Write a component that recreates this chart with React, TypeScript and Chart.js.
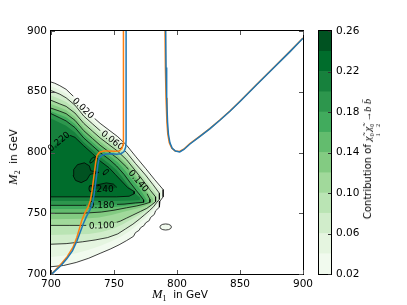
import React, { useEffect, useRef } from "react";
import { Chart, registerables } from "chart.js";

Chart.register(...registerables);

type Pt = [number, number];

// ---------- axes ----------
const xTickValues = [700, 750, 800, 850, 900];
const yTickValues = [700, 750, 800, 850, 900];
const colorbarTicks = [0.02, 0.06, 0.1, 0.14, 0.18, 0.22, 0.26];
const levelEdges = [0.02, 0.04, 0.06, 0.08, 0.1, 0.12, 0.14, 0.16, 0.18, 0.2, 0.22, 0.24, 0.26];
const bandColors = [
  "#f1faee", "#e5f5e0", "#d1edcb", "#bae4b4", "#a1d99b", "#83cb82",
  "#63bc6e", "#41ab5d", "#2d964d", "#17813d", "#006d2c", "#005221",
];

// ---------- contour regions (M1, M2) in GeV ----------
const c002: Pt[] = [
  [700, 858], [703, 857], [707, 855], [712, 852], [719, 845], [726, 836], [733, 829.5], [739, 824], [746, 818.5], [753, 813], [760, 806], [767, 797], [775, 787], [782, 778], [789, 769.5],
  [789, 763.5], [786.5, 760], [786, 755], [783, 752], [782, 749], [779, 746.5], [778, 744], [775, 742], [774, 740], [771, 738], [770, 736], [767, 734], [765.5, 731], [760, 727.5], [754, 724], [747, 720.5], [739, 717], [730, 713], [720, 709.5], [710, 707], [700, 706],
];
const island002: Pt[] = [
  [795.6, 738.7], [795, 740], [793.3, 740.9], [791, 741.2], [788.7, 740.9], [787, 740], [786.4, 738.7], [787, 737.4], [788.7, 736.5], [791, 736.2], [793.3, 736.5], [795, 737.4], [795.6, 738.7],
];
const c004: Pt[] = [
  [700, 854.5], [707, 851.5], [712, 848.5], [719, 842], [726, 833], [733, 826.5], [739, 821], [746, 815.5], [753, 810], [760, 803], [767, 794], [775, 784], [782, 775.5], [787.5, 767.5],
  [787.5, 762.5], [785.5, 759], [784, 756], [781, 752.5], [778, 749], [775, 746], [771, 742.5], [767, 739], [762, 735], [756, 731], [748, 727], [740, 723.5], [730, 720], [720, 717], [710, 715], [700, 714],
];
const c006: Pt[] = [
  [700, 851], [707, 848], [712, 845], [719, 839], [726, 830], [733, 823.5], [739, 818], [746, 812.5], [753, 807], [760, 800], [767, 791], [775, 781.5], [781, 773.5], [786, 766.5],
  [786, 761.5], [784, 759], [781.5, 755.5], [778, 752], [774, 748.5], [770, 745], [765, 741], [759, 737], [753, 733], [745, 730], [735, 728], [725, 726.5], [712, 725], [700, 724.5],
];
const c008: Pt[] = [
  [700, 847], [707, 844], [712, 841.5], [719, 835.5], [726, 827], [733, 820.5], [739, 815], [746, 809.5], [753, 804], [760, 797], [767, 788], [774, 779], [779.5, 771.5], [784.5, 765],
  [784.5, 760.5], [782, 758], [779, 755], [775, 752], [770, 748.5], [764, 745], [757, 741], [750, 737.5], [740, 734.5], [730, 733], [715, 732.5], [700, 732],
];
const c010: Pt[] = [
  [700, 843], [707, 840], [712, 838], [719, 832.5], [726, 824], [733, 817.5], [739, 812], [746, 806.5], [753, 801], [760, 794], [767, 785], [773, 777], [778, 770], [783, 763.5],
  [783, 759.5], [780, 757], [776, 754], [771, 751.5], [765, 748.5], [760, 746], [755, 743.5], [749, 741.5], [742, 740.3], [730, 740], [715, 740], [700, 740],
];
const c012: Pt[] = [
  [700, 840], [707, 837], [712, 835], [719, 829.5], [726, 821], [733, 814.5], [739, 809], [746, 803.5], [753, 798], [760, 791], [766, 783], [771.5, 775.5], [776.5, 768], [781, 762],
  [781, 759], [777, 757], [772, 755], [765, 753], [757, 751], [748, 748.5], [738, 746.5], [725, 745.5], [700, 745],
];
const c014: Pt[] = [
  [700, 836.5], [707, 834], [712, 832], [719, 826.5], [726, 818], [733, 811.5], [739, 806], [746, 800.5], [753, 795], [760, 788], [765, 781.5], [770, 776], [774.5, 769.5], [778.5, 761.5],
  [778.5, 759], [774, 757.5], [768, 756], [760, 754.5], [750, 752.5], [740, 751], [725, 750], [700, 750],
];
const c016: Pt[] = [
  [700, 834], [707, 831], [712, 829], [719, 823.5], [726, 815], [733, 808.5], [739, 803], [746, 797.5], [753, 792], [759, 785], [764, 778], [769, 772], [773, 766], [776, 761],
  [776, 759], [771, 758], [765, 757], [755, 755.5], [740, 754], [720, 753.5], [700, 753.5],
];
const c018: Pt[] = [
  [700, 832], [707, 828.5], [712, 826], [719, 820.5], [726, 812], [733, 805.5], [739, 800], [746, 794.5], [752, 789], [758, 782], [763, 775], [767.5, 769], [771, 764.5], [773.5, 761],
  [773.5, 759], [767, 758.5], [758, 757.5], [745, 757], [725, 756.5], [700, 756.5],
];
const c020: Pt[] = [
  [700, 828], [707, 824.5], [712, 822], [719, 816.5], [726, 808.5], [733, 802], [739, 796.5], [746, 791], [752, 785.5], [757, 779], [762, 772], [766.5, 766.5], [770.5, 763],
  [770.5, 761], [765, 760.5], [750, 760], [725, 760], [700, 760],
];
const c022: Pt[] = [
  [700, 802], [704, 807], [709, 812], [713, 815], [719, 812.5], [726, 805.5], [733, 799], [739, 793], [746, 787.5], [751, 782], [756, 776.5], [761, 771], [766, 768],
  [766, 766], [762, 764], [752, 763.5], [730, 763.5], [700, 763.5],
];
const c024bean: Pt[] = [
  [717.5, 781], [718, 786], [721, 790], [726.5, 791.5], [730.5, 789], [731.5, 785], [738, 783.6], [731, 782], [728.5, 777.5], [724, 775.2], [719.5, 777], [717.5, 781],
];
const c024lobe: Pt[] = [
  [731, 771.5], [737, 773.5], [744, 775], [749.5, 774], [752, 771.5], [748, 769.8], [740, 769.6], [733, 770.2], [731, 771.5],
];
const loopA: Pt[] = [
  [731, 791.2], [733, 792.2], [734.8, 794.5], [735.2, 796], [734, 796.2], [732.2, 795], [730.9, 792.8], [731, 791.2],
];
const loopB: Pt[] = [
  [741.8, 781.5], [743.6, 782.4], [745.4, 784.5], [745.6, 785.8], [744.4, 786], [742.4, 784.8], [741.4, 782.8], [741.8, 781.5],
];

// ---------- curves ----------
const orangeLeft: Pt[] = [
  [700.5, 700], [704, 704], [708.5, 708.8], [713, 714.5], [717.5, 722], [720.5, 730], [722.5, 737], [724.4, 744], [727, 750.5], [729.5, 755], [731.2, 760.5], [732.5, 768], [733.5, 776], [734.5, 784], [735.5, 792], [736.5, 797.5], [738.5, 800.2], [742, 801.2], [746, 801.2], [750.5, 801], [754, 801.2], [756.3, 803.5], [757.3, 807], [757.5, 812], [757.5, 900],
];
const blueLeft: Pt[] = [
  [700, 699.3], [703.5, 702.8], [708, 707], [712.5, 712.5], [717, 719], [720.5, 727], [723, 734], [725.5, 741], [728, 747], [731, 753], [733, 758.5], [734.3, 766], [735.3, 774], [736.3, 782], [737.2, 790], [738.3, 795.5], [740.5, 797.8], [744, 798.8], [748, 799], [752, 798.6], [755.5, 799], [758, 800.8], [759.3, 804.5], [759.6, 810], [759.6, 900],
];
const orangeRight: Pt[] = [
  [790.5, 900], [790.8, 870], [791.3, 845], [792, 825], [792.7, 815], [793.9, 808], [795.8, 803.6], [798.5, 801.3], [802, 800.8], [805.3, 802.7], [810, 807.2], [818, 813.2], [826, 819.7], [834, 826.7], [842, 834.2], [850, 842.2], [863, 855.7], [876, 869.2], [889.5, 883], [900, 894.2],
];
const blueRight: Pt[] = [
  [791, 900], [791.3, 870], [791.8, 845], [792.5, 825], [793.2, 815], [794.4, 808], [796.2, 803.5], [798.8, 801.2], [802.2, 800.5], [805.5, 802.5], [810.3, 807], [818, 813], [826, 819.5], [834, 826.5], [842, 834], [850, 842], [863, 855.5], [876, 869], [889.5, 882.8], [900, 894],
];

// ---------- contour labels ----------
const labelTexts = ["0.020", "0.060", "0.140", "0.220", "0.240", "0.180", "0.100"];
const labelX = [725.6, 748.8, 769.5, 706.2, 739.5, 740.2, 740.2];
const labelY = [836.5, 810.2, 776.6, 809, 769.7, 756.8, 740];
const labelAngle = [44, 38, 49, -40, 0, 0, -2];

const filledRegions: { level: number; pts: Pt[] }[] = [
  { level: 0.02, pts: c002 }, { level: 0.02, pts: island002 },
  { level: 0.04, pts: c004 }, { level: 0.06, pts: c006 }, { level: 0.08, pts: c008 },
  { level: 0.1, pts: c010 }, { level: 0.12, pts: c012 }, { level: 0.14, pts: c014 },
  { level: 0.16, pts: c016 }, { level: 0.18, pts: c018 }, { level: 0.2, pts: c020 },
  { level: 0.22, pts: c022 }, { level: 0.24, pts: c024bean }, { level: 0.24, pts: c024lobe },
];
const contourLineSets: Pt[][] = [c002, island002, c006, c010, c014, c018, c022, c024bean, c024lobe, loopA, loopB];

const LABEL_FONT = "9px 'DejaVu Sans', sans-serif";
const SANS = "'DejaVu Sans', sans-serif";
const SERIF = "'Liberation Serif', serif";

const toXY = (pts: Pt[]) => pts.map(([x, y]) => ({ x, y }));

function drawLabels(chart: any) {
  const ctx = chart.ctx;
  ctx.save();
  ctx.font = LABEL_FONT;
  ctx.fillStyle = "#000";
  ctx.textAlign = "center";
  ctx.textBaseline = "middle";
  labelTexts.forEach((t, i) => {
    const px = chart.scales.x.getPixelForValue(labelX[i]);
    const py = chart.scales.y.getPixelForValue(labelY[i]);
    ctx.save();
    ctx.translate(px, py);
    ctx.rotate((labelAngle[i] * Math.PI) / 180);
    ctx.fillText(t, 0, 0.5);
    ctx.restore();
  });
  ctx.restore();
}

const labelPlugin = {
  id: "contourLabels",
  beforeDatasetDraw(chart: any, args: any) {
    const ds: any = chart.data.datasets[args.index];
    const ctx = chart.ctx;
    if (ds.kind === "cline") {
      ctx.save();
      ctx.font = LABEL_FONT;
      ctx.beginPath();
      ctx.rect(0, 0, chart.width, chart.height);
      labelTexts.forEach((t, i) => {
        const px = chart.scales.x.getPixelForValue(labelX[i]);
        const py = chart.scales.y.getPixelForValue(labelY[i]);
        const w = ctx.measureText(t).width / 2 + 2.5;
        const h = 2.5;
        const a = (labelAngle[i] * Math.PI) / 180;
        const c = Math.cos(a), s = Math.sin(a);
        const corners = [[-w, -h], [w, -h], [w, h], [-w, h]].map(([u, v]) => [px + u * c - v * s, py + u * s + v * c]);
        ctx.moveTo(corners[0][0], corners[0][1]);
        for (let k = 1; k < 4; k++) ctx.lineTo(corners[k][0], corners[k][1]);
        ctx.closePath();
      });
      ctx.clip("evenodd");
    }
    if (ds.kind === "curveFirst") drawLabels(chart);
  },
  afterDatasetDraw(chart: any, args: any) {
    const ds: any = chart.data.datasets[args.index];
    if (ds.kind === "cline") chart.ctx.restore();
  },
};

const framePlugin = {
  id: "frameTicks",
  afterDraw(chart: any) {
    const { ctx, chartArea: a, scales } = chart;
    ctx.save();
    ctx.strokeStyle = "#000";
    ctx.lineWidth = 1;
    ctx.strokeRect(a.left - 0.5, a.top - 0.5, a.right - a.left + 1, a.bottom - a.top + 1);
    ctx.strokeStyle = "#555";
    ctx.beginPath();
    xTickValues.forEach((v) => {
      const p = Math.round(scales.x.getPixelForValue(v)) + 0.5;
      ctx.moveTo(p, a.bottom); ctx.lineTo(p, a.bottom - 4);
      ctx.moveTo(p, a.top); ctx.lineTo(p, a.top + 4);
    });
    yTickValues.forEach((v) => {
      const p = Math.round(scales.y.getPixelForValue(v)) + 0.5;
      ctx.moveTo(a.left, p); ctx.lineTo(a.left + 4, p);
      ctx.moveTo(a.right, p); ctx.lineTo(a.right - 4, p);
    });
    ctx.stroke();
    ctx.restore();
  },
};

const cbFramePlugin = {
  id: "cbFrame",
  afterDraw(chart: any) {
    const { ctx, chartArea: a, scales } = chart;
    ctx.save();
    ctx.strokeStyle = "#000";
    ctx.lineWidth = 1;
    ctx.strokeRect(a.left - 0.5, a.top - 0.5, a.right - a.left + 1, a.bottom - a.top + 1);
    ctx.strokeStyle = "#333";
    ctx.beginPath();
    colorbarTicks.forEach((v) => {
      const p = Math.round(scales.y.getPixelForValue(v)) + 0.5;
      ctx.moveTo(a.right, p); ctx.lineTo(a.right - 3, p);
    });
    ctx.stroke();
    ctx.restore();
  },
};

const tickFont = { family: SANS, size: 10.5 };

function Stack({ sup, sub }: { sup: string; sub: string }) {
  return (
    <span style={{ display: "inline-flex", flexDirection: "column", fontSize: 6, lineHeight: "6px", verticalAlign: "-3px", fontFamily: SERIF, fontStyle: "normal" }}>
      <span>{sup}</span>
      <span>{sub}</span>
    </span>
  );
}

export default function App() {
  const mainRef = useRef<HTMLCanvasElement | null>(null);
  const cbRef = useRef<HTMLCanvasElement | null>(null);

  useEffect(() => {
    const datasets: any[] = [];
    filledRegions.forEach((r, i) => {
      datasets.push({
        data: toXY(r.pts), showLine: true, fill: "shape",
        backgroundColor: bandColors[Math.round((r.level - 0.02) / 0.02)],
        borderWidth: 0, borderColor: "rgba(0,0,0,0)", pointRadius: 0, order: 500 - i, kind: "fill",
      });
    });
    contourLineSets.forEach((pts) => {
      datasets.push({
        data: toXY(pts), showLine: true, fill: false, borderColor: "#000", borderWidth: 0.75,
        pointRadius: 0, order: 100, kind: "cline",
      });
    });
    datasets.push({ data: toXY(orangeLeft), showLine: true, fill: false, borderColor: "#ff7f0e", borderWidth: 1.5, pointRadius: 0, order: 4, kind: "curveFirst" });
    datasets.push({ data: toXY(blueLeft), showLine: true, fill: false, borderColor: "#1f77b4", borderWidth: 1.5, pointRadius: 0, order: 3, kind: "curve" });
    datasets.push({ data: toXY(orangeRight), showLine: true, fill: false, borderColor: "#ff7f0e", borderWidth: 1.5, pointRadius: 0, order: 2, kind: "curve" });
    datasets.push({ data: toXY(blueRight), showLine: true, fill: false, borderColor: "#1f77b4", borderWidth: 1.5, pointRadius: 0, order: 1, kind: "curve" });

    const main = new Chart(mainRef.current as HTMLCanvasElement, {
      type: "scatter",
      data: { datasets },
      options: {
        responsive: false,
        animation: false,
        devicePixelRatio: 1,
        events: [],
        layout: { padding: { left: 0, right: 104, top: 31, bottom: 0 } },
        plugins: { legend: { display: false }, tooltip: { enabled: false } },
        elements: { point: { radius: 0 }, line: { tension: 0 } },
        scales: {
          x: {
            type: "linear", min: 700, max: 900,
            afterBuildTicks: (s: any) => { s.ticks = xTickValues.map((v) => ({ value: v })); },
            afterFit: (s: any) => { s.height = 31; },
            grid: { display: false, drawTicks: false },
            border: { display: false },
            ticks: { padding: 4, color: "#000", font: tickFont, maxRotation: 0, autoSkip: false },
          },
          y: {
            type: "linear", min: 700, max: 900,
            afterBuildTicks: (s: any) => { s.ticks = yTickValues.map((v) => ({ value: v })); },
            afterFit: (s: any) => { s.width = 51; },
            grid: { display: false, drawTicks: false },
            border: { display: false },
            ticks: { padding: 4, color: "#000", font: tickFont, autoSkip: false },
          },
        },
      } as any,
      plugins: [labelPlugin, framePlugin],
    });

    const cb = new Chart(cbRef.current as HTMLCanvasElement, {
      type: "bar",
      data: {
        labels: [""],
        datasets: bandColors.map((c, i) => ({
          data: [[levelEdges[i], levelEdges[i + 1]]] as any,
          backgroundColor: c, borderWidth: 0, grouped: false,
          barPercentage: 1, categoryPercentage: 1,
        })),
      },
      options: {
        responsive: false,
        animation: false,
        devicePixelRatio: 1,
        events: [],
        layout: { padding: { left: 319, right: 0, top: 31, bottom: 31 } },
        plugins: { legend: { display: false }, tooltip: { enabled: false } },
        scales: {
          x: { display: false },
          y: {
            type: "linear", position: "right", min: 0.02, max: 0.26,
            afterBuildTicks: (s: any) => { s.ticks = colorbarTicks.map((v) => ({ value: v })); },
            afterFit: (s: any) => { s.width = 76; },
            grid: { display: false, drawTicks: false },
            border: { display: false },
            ticks: { padding: 5, color: "#000", font: tickFont, autoSkip: false, callback: (v: any) => Number(v).toFixed(2) },
          },
        },
      } as any,
      plugins: [cbFramePlugin],
    });

    return () => { main.destroy(); cb.destroy(); };
  }, []);

  const mathM = { fontFamily: SERIF, fontStyle: "italic" as const, fontSize: 12.5 };
  const subStyle = { fontFamily: SERIF, fontSize: 8, position: "relative" as const, top: 3 };
  const titleBase = { position: "absolute" as const, whiteSpace: "nowrap" as const, fontFamily: SANS, fontSize: 10.5, fontWeight: 400, lineHeight: "13px", color: "#000" };

  return (
    <div style={{ position: "fixed", left: 0, top: 0, width: 407, height: 305, background: "#fff", overflow: "hidden" }}>
      <canvas ref={mainRef} width={407} height={305} style={{ position: "absolute", left: 0, top: 0 }} />
      <canvas ref={cbRef} width={407} height={305} style={{ position: "absolute", left: 0, top: 0 }} />
      <div style={{ ...titleBase, left: 180, top: 295, transform: "translate(-50%,-50%)" }}>
        <span style={mathM}>M</span><span style={subStyle}>1</span>{"\u00a0 in GeV"}
      </div>
      <div style={{ ...titleBase, left: 14, top: 157, transform: "translate(-50%,-50%) rotate(-90deg)" }}>
        <span style={mathM}>M</span><span style={subStyle}>2</span>{"\u00a0 in GeV"}
      </div>
      <div style={{ ...titleBase, fontSize: 10, left: 371, top: 159, transform: "translate(-50%,-50%) rotate(-90deg)" }}>
        {"Contribution of "}
        <span style={{ fontFamily: SERIF, fontStyle: "italic", fontSize: 10.5 }}>{"\u03c7\u0303"}</span>
        <Stack sup="0" sub="1" />
        {"\u2009"}
        <span style={{ fontFamily: SERIF, fontStyle: "italic", fontSize: 10.5 }}>{"\u03c7\u0303"}</span>
        <Stack sup="0" sub="2" />
        <span style={{ fontFamily: SERIF, fontSize: 9.5 }}>{"\u00a0\u2192"}</span>
        <span style={{ fontFamily: SERIF, fontStyle: "italic", fontSize: 10.5 }}>{"b b\u0304"}</span>
      </div>
    </div>
  );
}
